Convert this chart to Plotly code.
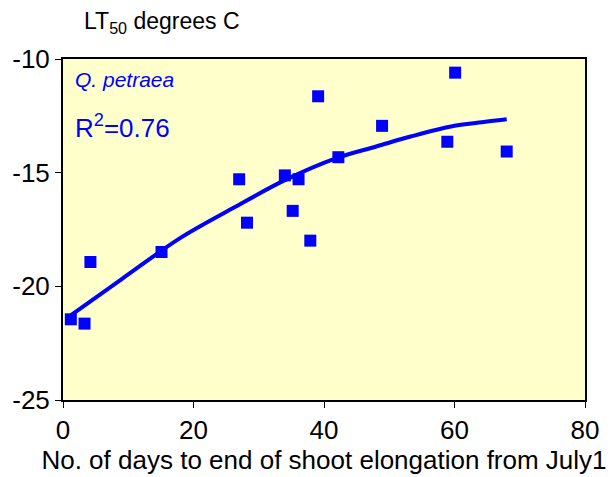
import plotly.graph_objects as go

# Observed data points
days = [1.2, 3.3, 4.2, 15.1, 27.0, 28.2, 34.0, 35.2, 36.1, 37.9, 39.1, 42.2, 48.9, 58.9, 60.1, 68.0]
lt50 = [-21.45, -21.64, -18.93, -18.49, -15.29, -17.2, -15.12, -16.68, -15.29, -17.99, -11.64, -14.32, -12.94, -13.64, -10.6, -14.07]

# Fitted trend curve
fit_days = [0.8, 9, 18, 26, 34, 42, 48, 53.4, 60, 65, 68]
fit_lt50 = [-21.35, -19.68, -17.87, -16.57, -15.33, -14.35, -13.85, -13.4, -12.94, -12.75, -12.65]

x_ticks = [0, 20, 40, 60, 80]
y_ticks = [-10, -15, -20, -25]
y_tick_text = ["-10", "-15", "-20", "-25"]

blue = "#0000FF"
font = "Liberation Sans, Arial, sans-serif"

fig = go.Figure()
fig.add_trace(go.Scatter(x=fit_days, y=fit_lt50, mode="lines",
                         line=dict(color=blue, width=4, shape="spline"),
                         hoverinfo="skip", showlegend=False))
fig.add_trace(go.Scatter(x=days, y=lt50, mode="markers",
                         marker=dict(symbol="square", size=12, color=blue),
                         showlegend=False))

fig.update_layout(
    width=612, height=477,
    margin=dict(l=58, r=27, t=59, b=73),
    paper_bgcolor="white",
    plot_bgcolor="#FFFFCC",
    font=dict(family=font, size=26, color="black"),
    xaxis=dict(range=[0, 80], tickvals=x_ticks, ticks="outside", ticklen=6,
               tickwidth=1, tickcolor="black",
               showline=True, linecolor="black", linewidth=2, mirror=True,
               showgrid=False, zeroline=False,
               tickfont=dict(size=26),
               title=dict(text="No. of days to end of shoot elongation from July1",
                          font=dict(size=26), standoff=2)),
    yaxis=dict(range=[-25, -10], tickvals=y_ticks, ticktext=y_tick_text,
               ticks="outside", ticklen=6,
               tickwidth=1, tickcolor="black",
               showline=True, linecolor="black", linewidth=2, mirror=True,
               showgrid=False, zeroline=False,
               tickfont=dict(size=26)),
    annotations=[
        dict(text="LT<sub>50</sub> degrees C", xref="paper", yref="paper",
             x=0.036, y=1.107, xanchor="left", yanchor="middle",
             showarrow=False, font=dict(size=23, color="black")),
        dict(text="<i>Q. petraea</i>", xref="paper", yref="paper",
             x=0.019, y=0.939, xanchor="left", yanchor="middle",
             showarrow=False, font=dict(size=21, color=blue)),
        dict(text="R<sup>2</sup>=0.76", xref="paper", yref="paper",
             x=0.019, y=0.803, xanchor="left", yanchor="middle",
             showarrow=False, font=dict(size=26, color=blue)),
    ],
)

fig.write_html("out.html", config={"displayModeBar": False},
               post_script="document.body.style.margin='0';")
